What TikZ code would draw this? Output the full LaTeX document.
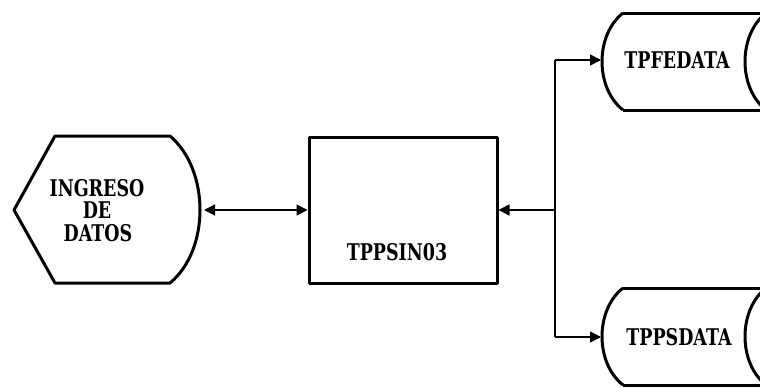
\documentclass[tikz,border=0pt]{standalone}
\usepackage{fontspec}
\newfontfamily\dfont{DejaVu Serif}[FakeStretch=0.76]
\usetikzlibrary{arrows.meta}
\tikzset{
  shapeline/.style={line width=3pt, line join=round},
  conn/.style={line width=1.6pt},
  tip/.style={-{Triangle[length=11pt,width=11pt]}},
  lbl/.style={font=\dfont\bfseries\fontsize{23}{23}\selectfont, inner sep=0pt, text height=16pt, text depth=0pt},
}
\begin{document}
\begin{tikzpicture}[x=1pt,y=-1pt]
\useasboundingbox (0,0) rectangle (760,388);
\clip (0,0) rectangle (760,388);
% hexagon / display shape
\draw[shapeline] (55,136) -- (170,136) .. controls (210,170) and (210,250) .. (170,283) -- (55,283) -- (14,210) -- cycle;
\coordinate (hexR) at (204,210);
\node[lbl] (ing1) at (97,188) {INGRESO};
\node[lbl] (ing2) at (97,210.5) {DE};
\node[lbl] (ing3) at (98,233) {DATOS};
% process box
\node[draw, shapeline, minimum width=188pt, minimum height=146pt, inner sep=0pt] (tpp) at (403,210) {};
\node[lbl] (tpptxt) at (397,252) {TPPSIN03};
% storage top
\draw[shapeline] (623,13) -- (780,13) (623,110) -- (780,110);
\draw[shapeline] (623,13) .. controls (595,35) and (595,88) .. (623,110);
\draw[shapeline] (766,13) .. controls (738,35) and (738,88) .. (766,110);
\coordinate (feL) at (601,60);
\node[lbl] (fe) at (677,60) {TPFEDATA};
% storage bottom
\draw[shapeline] (623,288) -- (780,288) (623,385) -- (780,385);
\draw[shapeline] (623,288) .. controls (595,310) and (595,363) .. (623,385);
\draw[shapeline] (766,288) .. controls (738,310) and (738,363) .. (766,385);
\coordinate (psL) at (601,337);
\node[lbl] (ps) at (679,337) {TPPSDATA};
% connectors
\draw[conn, {Triangle[length=11pt,width=11pt]}-{Triangle[length=11pt,width=11pt]}] (hexR) -- (tpp.west);
\coordinate (j) at (555,210);
\coordinate (jt) at (555,60);
\coordinate (jb) at (555,337);
\draw[conn, tip] (j) -- (tpp.east);
\draw[conn, tip] (jt) -- (feL);
\draw[conn, tip] (jb) -- (psL);
\draw[conn] (jt) -- (jb);
\end{tikzpicture}
\end{document}
